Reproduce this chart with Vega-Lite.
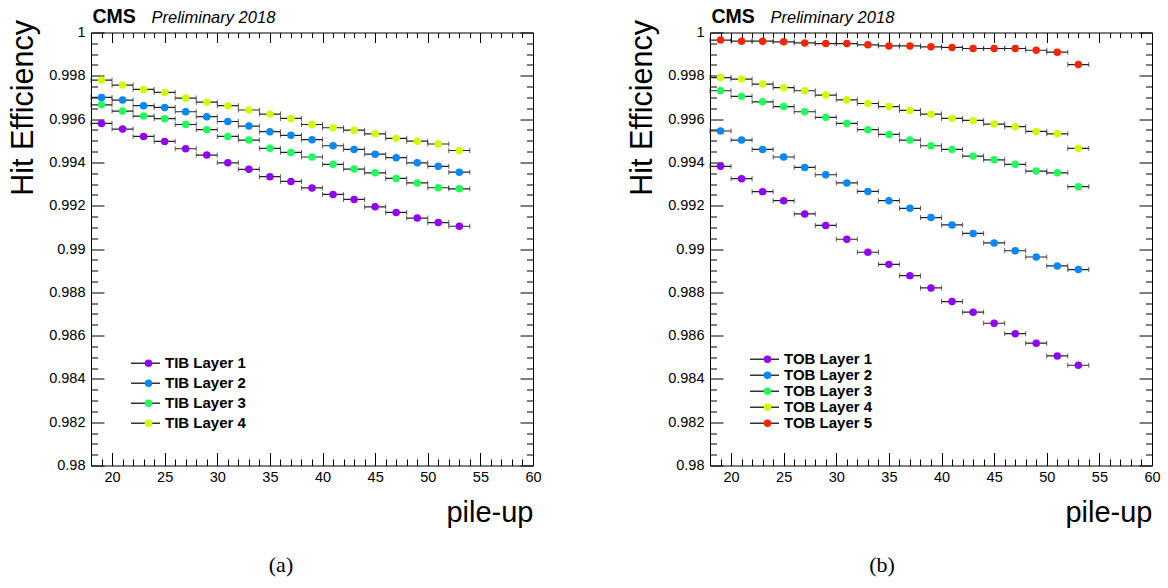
{
  "$schema": "https://vega.github.io/schema/vega-lite/v6.json",
  "background": "white",
  "padding": {"left": 8, "top": 5.5, "right": 0, "bottom": 0},
  "config": {
    "font": "Liberation Sans",
    "view": {"stroke": "black", "strokeWidth": 1},
    "axis": {"grid": false, "domain": false, "tickColor": "black", "labelColor": "black", "titleColor": "black", "labelFont": "Liberation Sans", "titleFont": "Liberation Sans"},
    "legend": {"padding": 0}
  },
  "datasets": {
    "tib": [
      {"layer":"TIB Layer 1","pu":19,"lo":18,"hi":20,"eff":0.99580},{"layer":"TIB Layer 1","pu":21,"lo":20,"hi":22,"eff":0.99554},{"layer":"TIB Layer 1","pu":23,"lo":22,"hi":24,"eff":0.99520},{"layer":"TIB Layer 1","pu":25,"lo":24,"hi":26,"eff":0.99497},{"layer":"TIB Layer 1","pu":27,"lo":26,"hi":28,"eff":0.99463},{"layer":"TIB Layer 1","pu":29,"lo":28,"hi":30,"eff":0.99434},{"layer":"TIB Layer 1","pu":31,"lo":30,"hi":32,"eff":0.99398},{"layer":"TIB Layer 1","pu":33,"lo":32,"hi":34,"eff":0.99368},{"layer":"TIB Layer 1","pu":35,"lo":34,"hi":36,"eff":0.99334},{"layer":"TIB Layer 1","pu":37,"lo":36,"hi":38,"eff":0.99312},{"layer":"TIB Layer 1","pu":39,"lo":38,"hi":40,"eff":0.99282},{"layer":"TIB Layer 1","pu":41,"lo":40,"hi":42,"eff":0.99252},{"layer":"TIB Layer 1","pu":43,"lo":42,"hi":44,"eff":0.99229},{"layer":"TIB Layer 1","pu":45,"lo":44,"hi":46,"eff":0.99195},{"layer":"TIB Layer 1","pu":47,"lo":46,"hi":48,"eff":0.99169},{"layer":"TIB Layer 1","pu":49,"lo":48,"hi":50,"eff":0.99143},{"layer":"TIB Layer 1","pu":51,"lo":50,"hi":52,"eff":0.99122},{"layer":"TIB Layer 1","pu":53,"lo":52,"hi":54,"eff":0.99105},
      {"layer":"TIB Layer 2","pu":19,"lo":18,"hi":20,"eff":0.99700},{"layer":"TIB Layer 2","pu":21,"lo":20,"hi":22,"eff":0.99688},{"layer":"TIB Layer 2","pu":23,"lo":22,"hi":24,"eff":0.99662},{"layer":"TIB Layer 2","pu":25,"lo":24,"hi":26,"eff":0.99654},{"layer":"TIB Layer 2","pu":27,"lo":26,"hi":28,"eff":0.99634},{"layer":"TIB Layer 2","pu":29,"lo":28,"hi":30,"eff":0.99611},{"layer":"TIB Layer 2","pu":31,"lo":30,"hi":32,"eff":0.99589},{"layer":"TIB Layer 2","pu":33,"lo":32,"hi":34,"eff":0.99568},{"layer":"TIB Layer 2","pu":35,"lo":34,"hi":36,"eff":0.99542},{"layer":"TIB Layer 2","pu":37,"lo":36,"hi":38,"eff":0.99525},{"layer":"TIB Layer 2","pu":39,"lo":38,"hi":40,"eff":0.99505},{"layer":"TIB Layer 2","pu":41,"lo":40,"hi":42,"eff":0.99477},{"layer":"TIB Layer 2","pu":43,"lo":42,"hi":44,"eff":0.99460},{"layer":"TIB Layer 2","pu":45,"lo":44,"hi":46,"eff":0.99438},{"layer":"TIB Layer 2","pu":47,"lo":46,"hi":48,"eff":0.99422},{"layer":"TIB Layer 2","pu":49,"lo":48,"hi":50,"eff":0.99398},{"layer":"TIB Layer 2","pu":51,"lo":50,"hi":52,"eff":0.99382},{"layer":"TIB Layer 2","pu":53,"lo":52,"hi":54,"eff":0.99355},
      {"layer":"TIB Layer 3","pu":19,"lo":18,"hi":20,"eff":0.99666},{"layer":"TIB Layer 3","pu":21,"lo":20,"hi":22,"eff":0.99637},{"layer":"TIB Layer 3","pu":23,"lo":22,"hi":24,"eff":0.99614},{"layer":"TIB Layer 3","pu":25,"lo":24,"hi":26,"eff":0.99602},{"layer":"TIB Layer 3","pu":27,"lo":26,"hi":28,"eff":0.99575},{"layer":"TIB Layer 3","pu":29,"lo":28,"hi":30,"eff":0.99551},{"layer":"TIB Layer 3","pu":31,"lo":30,"hi":32,"eff":0.99520},{"layer":"TIB Layer 3","pu":33,"lo":32,"hi":34,"eff":0.99503},{"layer":"TIB Layer 3","pu":35,"lo":34,"hi":36,"eff":0.99465},{"layer":"TIB Layer 3","pu":37,"lo":36,"hi":38,"eff":0.99446},{"layer":"TIB Layer 3","pu":39,"lo":38,"hi":40,"eff":0.99425},{"layer":"TIB Layer 3","pu":41,"lo":40,"hi":42,"eff":0.99391},{"layer":"TIB Layer 3","pu":43,"lo":42,"hi":44,"eff":0.99369},{"layer":"TIB Layer 3","pu":45,"lo":44,"hi":46,"eff":0.99352},{"layer":"TIB Layer 3","pu":47,"lo":46,"hi":48,"eff":0.99326},{"layer":"TIB Layer 3","pu":49,"lo":48,"hi":50,"eff":0.99305},{"layer":"TIB Layer 3","pu":51,"lo":50,"hi":52,"eff":0.99283},{"layer":"TIB Layer 3","pu":53,"lo":52,"hi":54,"eff":0.99278},
      {"layer":"TIB Layer 4","pu":19,"lo":18,"hi":20,"eff":0.99780},{"layer":"TIB Layer 4","pu":21,"lo":20,"hi":22,"eff":0.99757},{"layer":"TIB Layer 4","pu":23,"lo":22,"hi":24,"eff":0.99737},{"layer":"TIB Layer 4","pu":25,"lo":24,"hi":26,"eff":0.99723},{"layer":"TIB Layer 4","pu":27,"lo":26,"hi":28,"eff":0.99697},{"layer":"TIB Layer 4","pu":29,"lo":28,"hi":30,"eff":0.99678},{"layer":"TIB Layer 4","pu":31,"lo":30,"hi":32,"eff":0.99662},{"layer":"TIB Layer 4","pu":33,"lo":32,"hi":34,"eff":0.99642},{"layer":"TIB Layer 4","pu":35,"lo":34,"hi":36,"eff":0.99623},{"layer":"TIB Layer 4","pu":37,"lo":36,"hi":38,"eff":0.99603},{"layer":"TIB Layer 4","pu":39,"lo":38,"hi":40,"eff":0.99575},{"layer":"TIB Layer 4","pu":41,"lo":40,"hi":42,"eff":0.99560},{"layer":"TIB Layer 4","pu":43,"lo":42,"hi":44,"eff":0.99549},{"layer":"TIB Layer 4","pu":45,"lo":44,"hi":46,"eff":0.99532},{"layer":"TIB Layer 4","pu":47,"lo":46,"hi":48,"eff":0.99511},{"layer":"TIB Layer 4","pu":49,"lo":48,"hi":50,"eff":0.99498},{"layer":"TIB Layer 4","pu":51,"lo":50,"hi":52,"eff":0.99485},{"layer":"TIB Layer 4","pu":53,"lo":52,"hi":54,"eff":0.99455}
    ],
    "tob": [
      {"layer":"TOB Layer 1","pu":19,"lo":18,"hi":20,"eff":0.99382},{"layer":"TOB Layer 1","pu":21,"lo":20,"hi":22,"eff":0.99325},{"layer":"TOB Layer 1","pu":23,"lo":22,"hi":24,"eff":0.99265},{"layer":"TOB Layer 1","pu":25,"lo":24,"hi":26,"eff":0.99223},{"layer":"TOB Layer 1","pu":27,"lo":26,"hi":28,"eff":0.99162},{"layer":"TOB Layer 1","pu":29,"lo":28,"hi":30,"eff":0.99109},{"layer":"TOB Layer 1","pu":31,"lo":30,"hi":32,"eff":0.99045},{"layer":"TOB Layer 1","pu":33,"lo":32,"hi":34,"eff":0.98985},{"layer":"TOB Layer 1","pu":35,"lo":34,"hi":36,"eff":0.98929},{"layer":"TOB Layer 1","pu":37,"lo":36,"hi":38,"eff":0.98877},{"layer":"TOB Layer 1","pu":39,"lo":38,"hi":40,"eff":0.98820},{"layer":"TOB Layer 1","pu":41,"lo":40,"hi":42,"eff":0.98757},{"layer":"TOB Layer 1","pu":43,"lo":42,"hi":44,"eff":0.98708},{"layer":"TOB Layer 1","pu":45,"lo":44,"hi":46,"eff":0.98657},{"layer":"TOB Layer 1","pu":47,"lo":46,"hi":48,"eff":0.98609},{"layer":"TOB Layer 1","pu":49,"lo":48,"hi":50,"eff":0.98565},{"layer":"TOB Layer 1","pu":51,"lo":50,"hi":52,"eff":0.98506},{"layer":"TOB Layer 1","pu":53,"lo":52,"hi":54,"eff":0.98463},
      {"layer":"TOB Layer 2","pu":19,"lo":18,"hi":20,"eff":0.99545},{"layer":"TOB Layer 2","pu":21,"lo":20,"hi":22,"eff":0.99503},{"layer":"TOB Layer 2","pu":23,"lo":22,"hi":24,"eff":0.99460},{"layer":"TOB Layer 2","pu":25,"lo":24,"hi":26,"eff":0.99425},{"layer":"TOB Layer 2","pu":27,"lo":26,"hi":28,"eff":0.99377},{"layer":"TOB Layer 2","pu":29,"lo":28,"hi":30,"eff":0.99343},{"layer":"TOB Layer 2","pu":31,"lo":30,"hi":32,"eff":0.99305},{"layer":"TOB Layer 2","pu":33,"lo":32,"hi":34,"eff":0.99266},{"layer":"TOB Layer 2","pu":35,"lo":34,"hi":36,"eff":0.99223},{"layer":"TOB Layer 2","pu":37,"lo":36,"hi":38,"eff":0.99188},{"layer":"TOB Layer 2","pu":39,"lo":38,"hi":40,"eff":0.99145},{"layer":"TOB Layer 2","pu":41,"lo":40,"hi":42,"eff":0.99111},{"layer":"TOB Layer 2","pu":43,"lo":42,"hi":44,"eff":0.99072},{"layer":"TOB Layer 2","pu":45,"lo":44,"hi":46,"eff":0.99028},{"layer":"TOB Layer 2","pu":47,"lo":46,"hi":48,"eff":0.98992},{"layer":"TOB Layer 2","pu":49,"lo":48,"hi":50,"eff":0.98963},{"layer":"TOB Layer 2","pu":51,"lo":50,"hi":52,"eff":0.98922},{"layer":"TOB Layer 2","pu":53,"lo":52,"hi":54,"eff":0.98905},
      {"layer":"TOB Layer 3","pu":19,"lo":18,"hi":20,"eff":0.99731},{"layer":"TOB Layer 3","pu":21,"lo":20,"hi":22,"eff":0.99705},{"layer":"TOB Layer 3","pu":23,"lo":22,"hi":24,"eff":0.99680},{"layer":"TOB Layer 3","pu":25,"lo":24,"hi":26,"eff":0.99658},{"layer":"TOB Layer 3","pu":27,"lo":26,"hi":28,"eff":0.99634},{"layer":"TOB Layer 3","pu":29,"lo":28,"hi":30,"eff":0.99608},{"layer":"TOB Layer 3","pu":31,"lo":30,"hi":32,"eff":0.99580},{"layer":"TOB Layer 3","pu":33,"lo":32,"hi":34,"eff":0.99551},{"layer":"TOB Layer 3","pu":35,"lo":34,"hi":36,"eff":0.99529},{"layer":"TOB Layer 3","pu":37,"lo":36,"hi":38,"eff":0.99503},{"layer":"TOB Layer 3","pu":39,"lo":38,"hi":40,"eff":0.99477},{"layer":"TOB Layer 3","pu":41,"lo":40,"hi":42,"eff":0.99460},{"layer":"TOB Layer 3","pu":43,"lo":42,"hi":44,"eff":0.99429},{"layer":"TOB Layer 3","pu":45,"lo":44,"hi":46,"eff":0.99412},{"layer":"TOB Layer 3","pu":47,"lo":46,"hi":48,"eff":0.99391},{"layer":"TOB Layer 3","pu":49,"lo":48,"hi":50,"eff":0.99360},{"layer":"TOB Layer 3","pu":51,"lo":50,"hi":52,"eff":0.99352},{"layer":"TOB Layer 3","pu":53,"lo":52,"hi":54,"eff":0.99288},
      {"layer":"TOB Layer 4","pu":19,"lo":18,"hi":20,"eff":0.99792},{"layer":"TOB Layer 4","pu":21,"lo":20,"hi":22,"eff":0.99785},{"layer":"TOB Layer 4","pu":23,"lo":22,"hi":24,"eff":0.99762},{"layer":"TOB Layer 4","pu":25,"lo":24,"hi":26,"eff":0.99745},{"layer":"TOB Layer 4","pu":27,"lo":26,"hi":28,"eff":0.99731},{"layer":"TOB Layer 4","pu":29,"lo":28,"hi":30,"eff":0.99711},{"layer":"TOB Layer 4","pu":31,"lo":30,"hi":32,"eff":0.99689},{"layer":"TOB Layer 4","pu":33,"lo":32,"hi":34,"eff":0.99672},{"layer":"TOB Layer 4","pu":35,"lo":34,"hi":36,"eff":0.99658},{"layer":"TOB Layer 4","pu":37,"lo":36,"hi":38,"eff":0.99640},{"layer":"TOB Layer 4","pu":39,"lo":38,"hi":40,"eff":0.99623},{"layer":"TOB Layer 4","pu":41,"lo":40,"hi":42,"eff":0.99603},{"layer":"TOB Layer 4","pu":43,"lo":42,"hi":44,"eff":0.99594},{"layer":"TOB Layer 4","pu":45,"lo":44,"hi":46,"eff":0.99577},{"layer":"TOB Layer 4","pu":47,"lo":46,"hi":48,"eff":0.99565},{"layer":"TOB Layer 4","pu":49,"lo":48,"hi":50,"eff":0.99543},{"layer":"TOB Layer 4","pu":51,"lo":50,"hi":52,"eff":0.99532},{"layer":"TOB Layer 4","pu":53,"lo":52,"hi":54,"eff":0.99465},
      {"layer":"TOB Layer 5","pu":19,"lo":18,"hi":20,"eff":0.99965},{"layer":"TOB Layer 5","pu":21,"lo":20,"hi":22,"eff":0.99960},{"layer":"TOB Layer 5","pu":23,"lo":22,"hi":24,"eff":0.99960},{"layer":"TOB Layer 5","pu":25,"lo":24,"hi":26,"eff":0.99957},{"layer":"TOB Layer 5","pu":27,"lo":26,"hi":28,"eff":0.99952},{"layer":"TOB Layer 5","pu":29,"lo":28,"hi":30,"eff":0.99949},{"layer":"TOB Layer 5","pu":31,"lo":30,"hi":32,"eff":0.99949},{"layer":"TOB Layer 5","pu":33,"lo":32,"hi":34,"eff":0.99943},{"layer":"TOB Layer 5","pu":35,"lo":34,"hi":36,"eff":0.99938},{"layer":"TOB Layer 5","pu":37,"lo":36,"hi":38,"eff":0.99938},{"layer":"TOB Layer 5","pu":39,"lo":38,"hi":40,"eff":0.99934},{"layer":"TOB Layer 5","pu":41,"lo":40,"hi":42,"eff":0.99931},{"layer":"TOB Layer 5","pu":43,"lo":42,"hi":44,"eff":0.99926},{"layer":"TOB Layer 5","pu":45,"lo":44,"hi":46,"eff":0.99926},{"layer":"TOB Layer 5","pu":47,"lo":46,"hi":48,"eff":0.99926},{"layer":"TOB Layer 5","pu":49,"lo":48,"hi":50,"eff":0.99918},{"layer":"TOB Layer 5","pu":51,"lo":50,"hi":52,"eff":0.99909},{"layer":"TOB Layer 5","pu":53,"lo":52,"hi":54,"eff":0.99852}
    ]
  },
  "spacing": 177,
  "bounds": "flush",
  "resolve": {"scale": {"color": "independent", "strokeDash": "independent"}, "legend": {"color": "independent", "strokeDash": "independent"}},
  "hconcat": [
    {
      "width": 442, "height": 433,
      "data": {"name": "tib"},
      "title": {"text": "(a)", "orient": "bottom", "anchor": "middle", "font": "Liberation Serif", "fontSize": 22, "fontWeight": "normal", "color": "black", "offset": 27, "dx": -31},
      "resolve": {"axis": {"x": "independent", "y": "independent"}},
      "layer": [
        {
          "mark": {"type": "rule", "color": "#222", "strokeWidth": 1.2},
          "encoding": {
            "x": {"field": "lo", "type": "quantitative", "scale": {"domain": [18, 60], "nice": false, "zero": false},
              "axis": {"orient": "bottom", "values": [18,19,20,21,22,23,24,25,26,27,28,29,30,31,32,33,34,35,36,37,38,39,40,41,42,43,44,45,46,47,48,49,50,51,52,53,54,55,56,57,58,59,60],
                "tickSize": {"condition": {"test": "datum.value % 5 === 0", "value": -13}, "value": -6.5},
                "labelExpr": "datum.value % 5 === 0 ? datum.label : ''", "labelFontSize": 14.5, "labelPadding": 18, "labelFlush": false, "labelOverlap": false,
                "title": "pile-up", "titleFontSize": 29, "titleFontWeight": "normal", "titleAlign": "right", "titleAnchor": "end", "titleBaseline": "alphabetic", "titleX": 442, "titleY": 56}},
            "x2": {"field": "hi"},
            "y": {"field": "eff", "type": "quantitative", "scale": {"domain": [0.98, 1], "nice": false, "zero": false},
              "axis": {"orient": "left", "values": [0.98,0.9805,0.981,0.9815,0.982,0.9825,0.983,0.9835,0.984,0.9845,0.985,0.9855,0.986,0.9865,0.987,0.9875,0.988,0.9885,0.989,0.9895,0.99,0.9905,0.991,0.9915,0.992,0.9925,0.993,0.9935,0.994,0.9945,0.995,0.9955,0.996,0.9965,0.997,0.9975,0.998,0.9985,0.999,0.9995,1],
                "tickSize": {"condition": {"test": "abs(datum.value*500-round(datum.value*500))<0.01", "value": -13}, "value": -6.5},
                "labelExpr": "abs(datum.value*500-round(datum.value*500))<0.01 ? format(datum.value,'~g') : ''", "labelFontSize": 14.5, "labelPadding": 19, "labelOverlap": false, "labelFlush": false,
                "title": "Hit Efficiency", "titleFontSize": 30.5, "titleFontWeight": "normal", "titleAnchor": "end", "titleY": -13, "titlePadding": 10}},
            "strokeDash": {"field": "layer", "type": "nominal", "scale": {"range": [[1, 0]]},
              "legend": {"orient": "none", "legendX": 39, "legendY": 321, "title": null, "symbolType": "stroke", "symbolSize": 841, "symbolStrokeColor": "#333", "symbolStrokeWidth": 1.5, "labelFontSize": 15, "labelFontWeight": "bold", "labelColor": "black", "clipHeight": 19.7, "rowPadding": 0}}
          }
        },
        {
          "mark": {"type": "tick", "orient": "vertical", "size": 5, "thickness": 1, "color": "#222"},
          "encoding": {
            "x": {"field": "lo", "type": "quantitative",
              "axis": {"orient": "top", "values": [18,19,20,21,22,23,24,25,26,27,28,29,30,31,32,33,34,35,36,37,38,39,40,41,42,43,44,45,46,47,48,49,50,51,52,53,54,55,56,57,58,59,60],
                "tickSize": {"condition": {"test": "datum.value % 5 === 0", "value": -10}, "value": -5}, "labels": false,
                "title": "CMS", "titleFontSize": 19.5, "titleFontWeight": "bold", "titleAlign": "left", "titleAnchor": "start", "titleBaseline": "alphabetic", "titleX": 1, "titleY": -10}},
            "y": {"field": "eff", "type": "quantitative",
              "axis": {"orient": "right", "values": [0.98,0.9805,0.981,0.9815,0.982,0.9825,0.983,0.9835,0.984,0.9845,0.985,0.9855,0.986,0.9865,0.987,0.9875,0.988,0.9885,0.989,0.9895,0.99,0.9905,0.991,0.9915,0.992,0.9925,0.993,0.9935,0.994,0.9945,0.995,0.9955,0.996,0.9965,0.997,0.9975,0.998,0.9985,0.999,0.9995,1],
                "tickSize": {"condition": {"test": "abs(datum.value*500-round(datum.value*500))<0.01", "value": -13}, "value": -6.5}, "labels": false, "title": null}}
          }
        },
        {
          "mark": {"type": "tick", "orient": "vertical", "size": 5, "thickness": 1, "color": "#222"},
          "encoding": {
            "x": {"field": "hi", "type": "quantitative",
              "axis": {"orient": "top", "ticks": false, "labels": false,
                "title": "Preliminary 2018", "titleFontSize": 16.5, "titleFontWeight": "normal", "titleFontStyle": "italic", "titleAlign": "left", "titleAnchor": "start", "titleBaseline": "alphabetic", "titleX": 60, "titleY": -10}},
            "y": {"field": "eff", "type": "quantitative", "axis": null}
          }
        },
        {
          "mark": {"type": "point", "filled": true, "opacity": 1, "size": 56},
          "encoding": {
            "x": {"field": "pu", "type": "quantitative", "axis": null},
            "y": {"field": "eff", "type": "quantitative", "axis": null},
            "color": {"field": "layer", "type": "nominal",
              "scale": {"domain": ["TIB Layer 1", "TIB Layer 2", "TIB Layer 3", "TIB Layer 4"], "range": ["#9100ff", "#0088ff", "#1eff5a", "#ccff00"]},
              "legend": {"orient": "none", "legendX": 50, "legendY": 321, "title": null, "symbolType": "circle", "symbolSize": 56, "symbolStrokeWidth": 0, "symbolOpacity": 1, "labelExpr": "''", "labelFontSize": 15, "clipHeight": 19.7, "rowPadding": 0}}
          }
        }
      ]
    },
    {
      "width": 442, "height": 433,
      "data": {"name": "tob"},
      "title": {"text": "(b)", "orient": "bottom", "anchor": "middle", "font": "Liberation Serif", "fontSize": 22, "fontWeight": "normal", "color": "black", "offset": 27, "dx": -49},
      "resolve": {"axis": {"x": "independent", "y": "independent"}},
      "layer": [
        {
          "mark": {"type": "rule", "color": "#222", "strokeWidth": 1.2},
          "encoding": {
            "x": {"field": "lo", "type": "quantitative", "scale": {"domain": [18, 60], "nice": false, "zero": false},
              "axis": {"orient": "bottom", "values": [18,19,20,21,22,23,24,25,26,27,28,29,30,31,32,33,34,35,36,37,38,39,40,41,42,43,44,45,46,47,48,49,50,51,52,53,54,55,56,57,58,59,60],
                "tickSize": {"condition": {"test": "datum.value % 5 === 0", "value": -13}, "value": -6.5},
                "labelExpr": "datum.value % 5 === 0 ? datum.label : ''", "labelFontSize": 14.5, "labelPadding": 18, "labelFlush": false, "labelOverlap": false,
                "title": "pile-up", "titleFontSize": 29, "titleFontWeight": "normal", "titleAlign": "right", "titleAnchor": "end", "titleBaseline": "alphabetic", "titleX": 442, "titleY": 56}},
            "x2": {"field": "hi"},
            "y": {"field": "eff", "type": "quantitative", "scale": {"domain": [0.98, 1], "nice": false, "zero": false},
              "axis": {"orient": "left", "values": [0.98,0.9805,0.981,0.9815,0.982,0.9825,0.983,0.9835,0.984,0.9845,0.985,0.9855,0.986,0.9865,0.987,0.9875,0.988,0.9885,0.989,0.9895,0.99,0.9905,0.991,0.9915,0.992,0.9925,0.993,0.9935,0.994,0.9945,0.995,0.9955,0.996,0.9965,0.997,0.9975,0.998,0.9985,0.999,0.9995,1],
                "tickSize": {"condition": {"test": "abs(datum.value*500-round(datum.value*500))<0.01", "value": -13}, "value": -6.5},
                "labelExpr": "abs(datum.value*500-round(datum.value*500))<0.01 ? format(datum.value,'~g') : ''", "labelFontSize": 14.5, "labelPadding": 19, "labelOverlap": false, "labelFlush": false,
                "title": "Hit Efficiency", "titleFontSize": 30.5, "titleFontWeight": "normal", "titleAnchor": "end", "titleY": -13, "titlePadding": 10}},
            "strokeDash": {"field": "layer", "type": "nominal", "scale": {"range": [[1, 0]]},
              "legend": {"orient": "none", "legendX": 39, "legendY": 319, "title": null, "symbolType": "stroke", "symbolSize": 841, "symbolStrokeColor": "#333", "symbolStrokeWidth": 1.5, "labelFontSize": 15, "labelFontWeight": "bold", "labelColor": "black", "clipHeight": 15.4, "rowPadding": 0}}
          }
        },
        {
          "mark": {"type": "tick", "orient": "vertical", "size": 5, "thickness": 1, "color": "#222"},
          "encoding": {
            "x": {"field": "lo", "type": "quantitative",
              "axis": {"orient": "top", "values": [18,19,20,21,22,23,24,25,26,27,28,29,30,31,32,33,34,35,36,37,38,39,40,41,42,43,44,45,46,47,48,49,50,51,52,53,54,55,56,57,58,59,60],
                "tickSize": {"condition": {"test": "datum.value % 5 === 0", "value": -10}, "value": -5}, "labels": false,
                "title": "CMS", "titleFontSize": 19.5, "titleFontWeight": "bold", "titleAlign": "left", "titleAnchor": "start", "titleBaseline": "alphabetic", "titleX": 1, "titleY": -10}},
            "y": {"field": "eff", "type": "quantitative",
              "axis": {"orient": "right", "values": [0.98,0.9805,0.981,0.9815,0.982,0.9825,0.983,0.9835,0.984,0.9845,0.985,0.9855,0.986,0.9865,0.987,0.9875,0.988,0.9885,0.989,0.9895,0.99,0.9905,0.991,0.9915,0.992,0.9925,0.993,0.9935,0.994,0.9945,0.995,0.9955,0.996,0.9965,0.997,0.9975,0.998,0.9985,0.999,0.9995,1],
                "tickSize": {"condition": {"test": "abs(datum.value*500-round(datum.value*500))<0.01", "value": -13}, "value": -6.5}, "labels": false, "title": null}}
          }
        },
        {
          "mark": {"type": "tick", "orient": "vertical", "size": 5, "thickness": 1, "color": "#222"},
          "encoding": {
            "x": {"field": "hi", "type": "quantitative",
              "axis": {"orient": "top", "ticks": false, "labels": false,
                "title": "Preliminary 2018", "titleFontSize": 16.5, "titleFontWeight": "normal", "titleFontStyle": "italic", "titleAlign": "left", "titleAnchor": "start", "titleBaseline": "alphabetic", "titleX": 60, "titleY": -10}},
            "y": {"field": "eff", "type": "quantitative", "axis": null}
          }
        },
        {
          "mark": {"type": "point", "filled": true, "opacity": 1, "size": 56},
          "encoding": {
            "x": {"field": "pu", "type": "quantitative", "axis": null},
            "y": {"field": "eff", "type": "quantitative", "axis": null},
            "color": {"field": "layer", "type": "nominal",
              "scale": {"domain": ["TOB Layer 1", "TOB Layer 2", "TOB Layer 3", "TOB Layer 4", "TOB Layer 5"], "range": ["#9100ff", "#0088ff", "#1eff5a", "#ccff00", "#ff2400"]},
              "legend": {"orient": "none", "legendX": 50, "legendY": 319, "title": null, "symbolType": "circle", "symbolSize": 56, "symbolStrokeWidth": 0, "symbolOpacity": 1, "labelExpr": "''", "labelFontSize": 15, "clipHeight": 15.4, "rowPadding": 0}}
          }
        }
      ]
    }
  ]
}
